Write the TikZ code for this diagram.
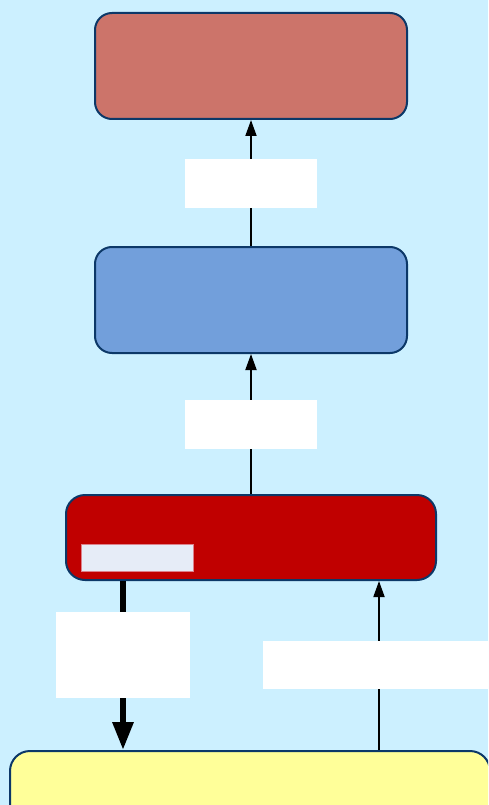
\documentclass[tikz,border=0pt]{standalone}
\usetikzlibrary{arrows.meta}
\definecolor{skyback}{RGB}{204,240,255}
\definecolor{boxedge}{RGB}{12,56,104}
\definecolor{roseboxfill}{RGB}{204,116,106}
\definecolor{blueboxfill}{RGB}{114,159,219}
\definecolor{redboxfill}{RGB}{192,0,0}
\definecolor{yellowboxfill}{RGB}{255,255,153}
\definecolor{paletag}{RGB}{230,236,247}
\tikzset{
  layerbox/.style={draw=boxedge, line width=2, rounded corners=17, inner sep=0},
  blanklabel/.style={fill=white, inner sep=0},
  thinarrow/.style={line width=1.8, -{Triangle[length=16,width=11]}},
  fatarrow/.style={line width=6, -{Triangle[length=28,width=20]}}
}
\begin{document}
\begin{tikzpicture}[x=1pt,y=1pt,yscale=-1,xscale=1]
%set diagram to 488 x 805
\useasboundingbox (0,0) rectangle (488,805);
\clip (0,0) rectangle (488,805);
\fill [skyback] (0,0) rectangle (488,805);

%Shape: Rounded Rectangle [id:top]
\node [layerbox, fill=roseboxfill, minimum width=312, minimum height=106] (toplayer) at (251,66) {};
%Shape: Rounded Rectangle [id:middle]
\node [layerbox, fill=blueboxfill, minimum width=312, minimum height=106] (midlayer) at (251,300) {};
%Shape: Rounded Rectangle [id:red]
\node [layerbox, fill=redboxfill, minimum width=370, minimum height=85, rounded corners=19] (redlayer) at (251,537.5) {};
%Shape: Rectangle [id:tag]
\node [draw={rgb,255:red,220;green,130;blue,140}, line width=0.6, fill=paletag, minimum width=112, minimum height=27, inner sep=0] (tag) at (137,557.5) {};
%Shape: Rounded Rectangle [id:yellow]
\node [layerbox, fill=yellowboxfill, minimum width=480, minimum height=110, rounded corners=20] (baselayer) at (250,806) {};

%Coordinates for the side links
\coordinate (leftlink) at (123,0);
\coordinate (rightlink) at (379,0);

%Straight Lines [id:up1]
\draw [thinarrow] (midlayer.north) -- (toplayer.south);
%Straight Lines [id:up2]
\draw [thinarrow] (redlayer.north) -- (midlayer.south);
%Straight Lines [id:down]
\draw [fatarrow] (redlayer.south -| leftlink) -- (baselayer.north -| leftlink);
%Straight Lines [id:up3]
\draw [thinarrow] (baselayer.north -| rightlink) -- (redlayer.south -| rightlink);

% Text Node
\node [blanklabel, minimum width=132, minimum height=49] (labelone) at (251,183.5) {};
% Text Node
\node [blanklabel, minimum width=132, minimum height=49] (labeltwo) at (251,424.5) {};
% Text Node
\node [blanklabel, minimum width=134, minimum height=86] (labelthree) at (123,655) {};
% Text Node
\node [blanklabel, minimum width=240, minimum height=48, anchor=west] (labelfour) at (263,665) {};

\end{tikzpicture}
\end{document}
